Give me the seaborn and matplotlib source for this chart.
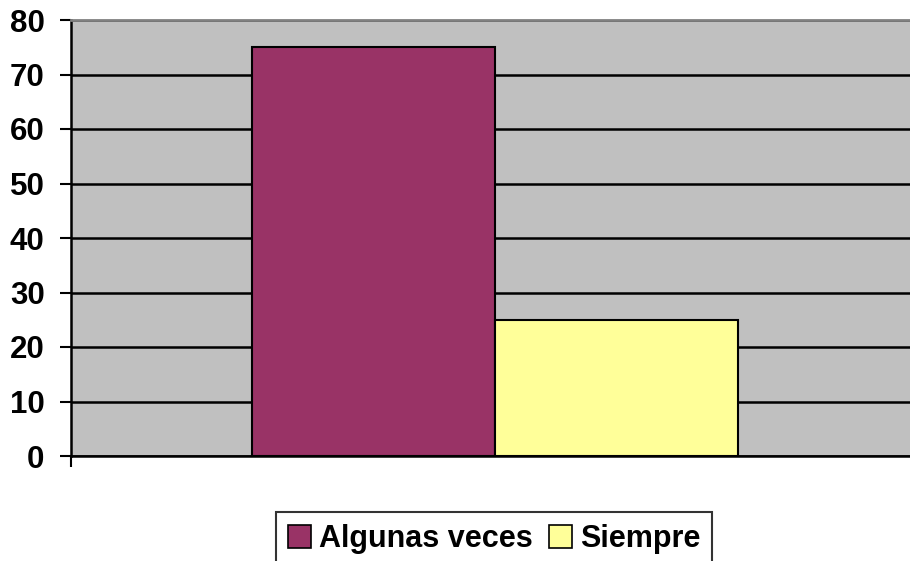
import pandas as pd
import matplotlib
matplotlib.use("Agg")
import matplotlib.pyplot as plt
import seaborn as sns

# data
series = ["Algunas veces", "Siempre"]
values = [75, 25]
colors = ["#993366", "#FFFF99"]
y_ticks = [0, 10, 20, 30, 40, 50, 60, 70, 80]

df = pd.DataFrame({"grupo": [""] * len(series), "serie": series, "valor": values})

sns.set_style("white")
plt.rcParams["font.family"] = ["Liberation Sans", "DejaVu Sans"]
plt.rcParams["text.color"] = "black"

fig = plt.figure(figsize=(9.10, 5.61), dpi=100)
ax = fig.add_axes([71 / 910, 105 / 561, 1 - 71 / 910, 436 / 561])
ax.set_facecolor("#C0C0C0")

sns.barplot(data=df, x="grupo", y="valor", hue="serie", palette=colors,
            width=0.5, edgecolor="black", linewidth=1.5, saturation=1,
            legend=False, ax=ax, zorder=3)

ax.set_ylim(0, 80)
ax.set_xlim(-0.436, 0.427)
ax.set_yticks(y_ticks)
ax.set_yticklabels([str(t) for t in y_ticks], fontsize=22.5, fontweight="bold",
                   color="black")
ax.yaxis.grid(True, color="black", linewidth=1.8, zorder=1)
ax.set_axisbelow(True)
ax.set_xticks([-0.436])
ax.set_xticklabels([""])
ax.tick_params(axis="both", direction="out", length=8, width=1.5, color="black",
               left=True, bottom=True)
ax.tick_params(axis="y", pad=11)
ax.set_xlabel("")
ax.set_ylabel("")

for side in ["left", "bottom"]:
    ax.spines[side].set_color("black")
    ax.spines[side].set_linewidth(1.8)
ax.spines["top"].set_color("#808080")
ax.spines["top"].set_linewidth(2)
ax.spines["right"].set_visible(False)

handles = [plt.Rectangle((0, 0), 1, 1, facecolor=c, edgecolor="black", linewidth=1.2)
           for c in colors]
leg = fig.legend(handles, series, loc="upper center",
                 bbox_to_anchor=(494 / 910, 1 - 512 / 561), ncol=2,
                 frameon=True, fancybox=False, edgecolor="black",
                 prop={"size": 22, "weight": "bold"},
                 handlelength=0.75, handleheight=0.75, handletextpad=0.25,
                 columnspacing=0.55, borderpad=0.4, borderaxespad=0)
leg.get_frame().set_linewidth(1.5)
for t in leg.get_texts():
    t.set_color("black")

fig.savefig("out.png", dpi=100)
